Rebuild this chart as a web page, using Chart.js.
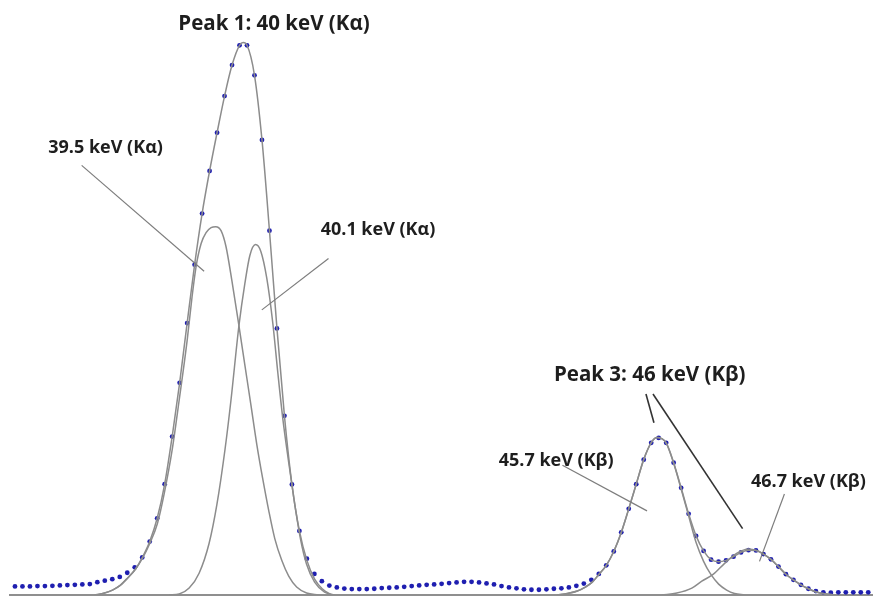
<!DOCTYPE html>
<html>
<head>
<meta charset="utf-8">
<script src="https://cdn.jsdelivr.net/npm/chart.js@4.4.1/dist/chart.umd.min.js"></script>
<style>
html, body { margin: 0; padding: 0; background: #fff; }
#wrap { width: 876px; height: 599px; position: relative; }
</style>
</head>
<body>
<div id="wrap"><canvas id="spectrum"></canvas></div>
<script>
// measured counts, one value per channel (blue dots), channel = index
const channelCounts = [
    8.7, 8.7, 8.7, 9, 9, 9.3, 9.7, 10, 10.3, 10.7,
    11, 13, 14.5, 16, 18.3, 22.5, 28, 38, 54, 77.5,
    112, 160, 214.3, 274.7, 333.7, 385.3, 428.3, 467, 504, 535.3,
    555.3, 555.3, 525, 459.7, 368, 269.3, 181, 111.7, 64.7, 36.7,
    21.3, 14, 9.5, 7.7, 6.5, 6, 6, 6, 6.3, 7,
    7.3, 7.7, 8.3, 9, 9.7, 10.3, 10.7, 11.3, 12, 12.7,
    13.3, 13.3, 12.7, 11.7, 10.7, 9, 7.7, 6.7, 5.7, 5.3,
    5.3, 5.7, 6.3, 6.7, 7.7, 9.3, 11.5, 15.3, 21.3, 30,
    44, 63.3, 87, 112, 136.7, 153.7, 158.7, 153.7, 133.7, 108.3,
    82, 59.7, 44.5, 35.7, 33.7, 35, 38.7, 43, 45.3, 45,
    41.3, 36, 28.7, 21, 15.3, 10.3, 6.3, 4, 2.7, 2.3,
    2.7, 2.7, 2.7, 2.7, 2.7
];

// fitted curves: [channel, counts]
const sumPeak1 = [
    [10.64, 0], [11.97, 2], [13.03, 5], [14.1, 10], [15.03, 17], [16.09, 26], [17.02, 38],
    [18, 54], [19, 77.5], [20, 112], [21, 160], [22, 214.3], [23, 274.7], [24, 333.7],
    [25, 385.3], [26, 428.3], [27, 467], [28, 504], [29, 535.3], [30, 555.3], [30.5, 558],
    [31, 555.3], [32, 525], [33, 459.7], [34, 368], [35, 269.3], [36, 181], [37, 111.7],
    [38, 64.7], [39, 35], [40.03, 16], [41.09, 6], [42.29, 0]
];
const kAlpha395 = [
    [10.64, 0], [11.97, 2], [13.03, 5], [14.1, 10], [15.03, 17], [16.09, 26], [17.02, 37],
    [17.95, 51], [19.02, 72], [19.95, 103], [21.01, 147], [21.94, 197], [23.0, 257],
    [23.67, 302], [24.2, 332], [24.87, 355], [25.53, 366], [26.2, 371], [26.82, 372],
    [27.53, 368], [28.19, 352], [28.99, 317], [29.92, 272], [30.72, 232], [31.52, 192],
    [32.31, 152], [33.11, 117], [33.91, 85], [34.71, 57], [35.64, 35], [36.57, 19],
    [37.63, 8], [38.96, 2], [40.56, 0]
];
const kAlpha401 = [
    [20.61, 0], [21.94, 1], [23.27, 7], [24.6, 22], [25.93, 52], [26.99, 92], [28.06, 147],
    [28.86, 197], [29.92, 272], [30.72, 315], [31.38, 343], [32.14, 354], [32.85, 347],
    [33.64, 320], [34.44, 275], [35.11, 225], [35.77, 179], [36.57, 134], [37.37, 92],
    [38.16, 56], [38.96, 31], [40.03, 13], [41.36, 3], [42.69, 0]
];
const sumPeak3 = [
    [72.47, 0], [73.8, 1.5], [75.13, 4], [76.2, 8], [77.13, 13], [77.93, 20],
    [79, 30], [80, 44], [81, 63.3], [82, 87], [83, 112], [84, 136.7], [85, 153.7],
    [85.77, 159], [87, 153.7], [88, 133.7], [89, 108.3], [90, 82], [91, 59.7], [92, 44.5],
    [93, 35.7], [94, 33.7], [95, 35], [96, 38.7], [97, 43], [98, 45.3], [99, 45],
    [100, 41.3], [101, 36], [102, 28.7], [103, 21], [104, 15.3], [105, 10.3], [106, 6.3],
    [107.05, 3], [108.38, 1], [109.71, 0]
];
const kBeta457 = [
    [72.47, 0], [73.8, 1.5], [75.13, 4], [76.2, 8], [77.13, 13], [77.93, 20], [79, 30],
    [80, 44], [81, 63], [82, 87], [83, 112], [84, 137], [85, 154], [85.77, 159],
    [87, 153.5], [88, 133], [89, 107], [90, 80], [91, 53], [92, 34], [92.95, 21],
    [94.01, 11], [95.08, 5], [96.14, 1.5], [97.47, 0]
];
const kBeta467 = [
    [86.44, 0], [88.43, 2], [90.43, 7], [91.76, 14], [93.31, 21], [94.81, 32], [96.41, 42],
    [98.01, 46.5], [99.07, 45], [100, 41.3], [101, 36], [102, 28.7], [103, 21],
    [104, 15.3], [105, 10.3], [106, 6.3], [107.05, 3], [108.38, 1], [109.71, 0]
];

// labels and leader lines, placed in data coordinates
const notes = [
    { text: 'Peak 1: 40 keV (K\u03B1)', at: [34.6, 577], size: 20.5 },
    { text: '39.5 keV (K\u03B1)', at: [12.1, 452], size: 18 },
    { text: '40.1 keV (K\u03B1)', at: [48.5, 369], size: 18 },
    { text: 'Peak 3: 46 keV (K\u03B2)', at: [84.8, 222], size: 20.5 },
    { text: '45.7 keV (K\u03B2)', at: [72.3, 135], size: 18 },
    { text: '46.7 keV (K\u03B2)', at: [106, 114], size: 18 }
];
const leaders = [
    { from: [8.91, 434], to: [25.27, 327], color: '#7d7d7d', width: 1.2 },
    { from: [41.89, 340], to: [32.98, 288], color: '#7d7d7d', width: 1.2 },
    { from: [84.3, 203], to: [85.37, 174], color: '#333333', width: 1.6 },
    { from: [85.24, 203], to: [97.21, 67], color: '#333333', width: 1.6 },
    { from: [73.14, 131], to: [84.44, 85], color: '#7d7d7d', width: 1.2 },
    { from: [102.8, 102], to: [99.47, 34], color: '#7d7d7d', width: 1.2 }
];

const toPoints = pairs => pairs.map(p => ({ x: p[0], y: p[1] }));

function fitLine(pairs) {
    return {
        data: toPoints(pairs),
        showLine: true,
        borderColor: '#8c8c8c',
        borderWidth: 1.5,
        pointRadius: 0,
        fill: false,
        cubicInterpolationMode: 'monotone',
        order: 0
    };
}

const annotatePlugin = {
    id: 'annotate',
    afterDatasetsDraw(chart) {
        const { ctx, scales: { x, y } } = chart;
        ctx.save();
        leaders.forEach(l => {
            ctx.beginPath();
            ctx.strokeStyle = l.color;
            ctx.lineWidth = l.width;
            ctx.moveTo(x.getPixelForValue(l.from[0]), y.getPixelForValue(l.from[1]));
            ctx.lineTo(x.getPixelForValue(l.to[0]), y.getPixelForValue(l.to[1]));
            ctx.stroke();
        });
        ctx.fillStyle = '#1e1e1e';
        ctx.textAlign = 'center';
        ctx.textBaseline = 'middle';
        notes.forEach(n => {
            ctx.font = 'bold ' + n.size + 'px "Open Sans", Lato, sans-serif';
            ctx.fillText(n.text, x.getPixelForValue(n.at[0]), y.getPixelForValue(n.at[1]));
        });
        ctx.restore();
    }
};

const ctx = document.getElementById('spectrum').getContext('2d');
new Chart(ctx, {
    type: 'scatter',
    data: {
        datasets: [
            fitLine(sumPeak1),
            fitLine(kAlpha395),
            fitLine(kAlpha401),
            fitLine(sumPeak3),
            fitLine(kBeta457),
            fitLine(kBeta467),
            {
                data: channelCounts.map((v, i) => ({ x: i, y: v })),
                showLine: false,
                pointRadius: 2.4,
                pointBorderWidth: 0,
                pointBackgroundColor: '#1f1fb0',
                order: 1
            }
        ]
    },
    options: {
        responsive: true,
        maintainAspectRatio: false,
        animation: false,
        layout: { padding: { left: 10, right: 0, top: 0, bottom: 2 } },
        plugins: {
            legend: { display: false },
            tooltip: { enabled: false }
        },
        scales: {
            x: {
                type: 'linear',
                min: -0.665,
                max: 114.5,
                grid: { display: false, drawTicks: false },
                ticks: { display: false },
                border: { display: true, color: '#8f8f8f', width: 2 }
            },
            y: {
                display: false,
                min: 0,
                max: 597
            }
        }
    },
    plugins: [annotatePlugin]
});
</script>
</body>
</html>
